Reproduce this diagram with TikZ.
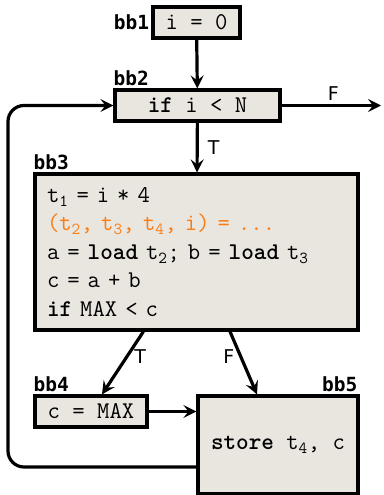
\documentclass[tikz,border=0pt]{standalone}
\usepackage{fontspec}
\newfontfamily\labelfont{DejaVu Sans Mono}
\newfontfamily\edgefont{DejaVu Sans}
\usetikzlibrary{arrows.meta,calc}
\definecolor{blockfill}{RGB}{233,229,223}
\definecolor{spill}{RGB}{250,125,20}
\tikzset{
  every picture/.style={font=\ttfamily\fontsize{24}{28.5}\selectfont},
  bbox/.style={draw,line width=3.2pt,fill=blockfill,inner sep=0pt},
  blabel/.style={font=\labelfont\bfseries\fontsize{19.5}{19.5}\selectfont,inner sep=2pt},
  edgelab/.style={font=\edgefont\fontsize{19}{19}\selectfont,inner sep=0pt},
  flow/.style={line width=3.2pt,-{Stealth[length=13pt,width=13pt,inset=5pt]}},
}

\begin{document}
\begin{tikzpicture}[x=1pt,y=-1pt]
  \useasboundingbox (0,0) rectangle (383,495);
  % blocks
  \node[bbox,minimum width=87pt,minimum height=31pt] (bb1) at (196.5,22.5) {i = 0};
  \node[bbox,minimum width=165pt,minimum height=31pt] (bb2) at (197.5,105.5) {\textbf{if} i < N};
  \node[bbox,minimum width=323pt,minimum height=156pt,inner xsep=12pt,
        text width=299pt,align=left] (bb3) at (196.5,252)
    {t\textsubscript{1} = i * 4\\
     \textcolor{spill}{(t\textsubscript{2}, t\textsubscript{3}, t\textsubscript{4}, i) = ...}\\
     a = \textbf{load} t\textsubscript{2}; b = \textbf{load} t\textsubscript{3}\\
     c = a + b\\
     \textbf{if} MAX < c};
  \node[bbox,minimum width=112pt,minimum height=31pt] (bb4) at (91,411.5) {c = MAX};
  \node[bbox,minimum width=160pt,minimum height=98pt] (bb5) at (278,445) {\textbf{store} t\textsubscript{4}, c};
  % block names
  \node[blabel,anchor=east] (n1) at (bb1.west) {bb1};
  \node[blabel,anchor=south west,inner xsep=0pt] (n2) at (bb2.north west) {bb2};
  \node[blabel,anchor=south west,inner xsep=0pt] (n3) at (bb3.north west) {bb3};
  \node[blabel,anchor=south west,inner xsep=0pt] (n4) at (bb4.north west) {bb4};
  \node[blabel,anchor=south east,inner xsep=0pt] (n5) at ([xshift=-2pt]bb5.north east) {bb5};
  % edges
  \coordinate (exit) at (381,105.5);
  \coordinate (loopx) at (8,0);
  \draw[flow] (bb1) -- (bb2);
  \draw[flow] (bb2.east) -- (exit) node[edgelab,pos=0.52,above=3pt] (f1) {F};
  \draw[flow] (bb2) -- (bb3) node[edgelab,midway,right=9pt] (t1) {T};
  \draw[flow] ([xshift=110pt]bb3.south west) -- ([xshift=11pt]bb4.north)
    node[edgelab,pos=0.4,right=6pt] (t2) {T};
  \draw[flow] ([xshift=33.5pt]bb3.south) -- ([xshift=-21pt]bb5.north)
    node[edgelab,pos=0.4,left=5pt] (f2) {F};
  \draw[flow] (bb4.east) -- (bb4.east -| bb5.west);
  \draw[flow,rounded corners=16pt] ([yshift=-22pt]bb5.west) -| (loopx |- bb2.west) -- (bb2.west);
\end{tikzpicture}
\end{document}
